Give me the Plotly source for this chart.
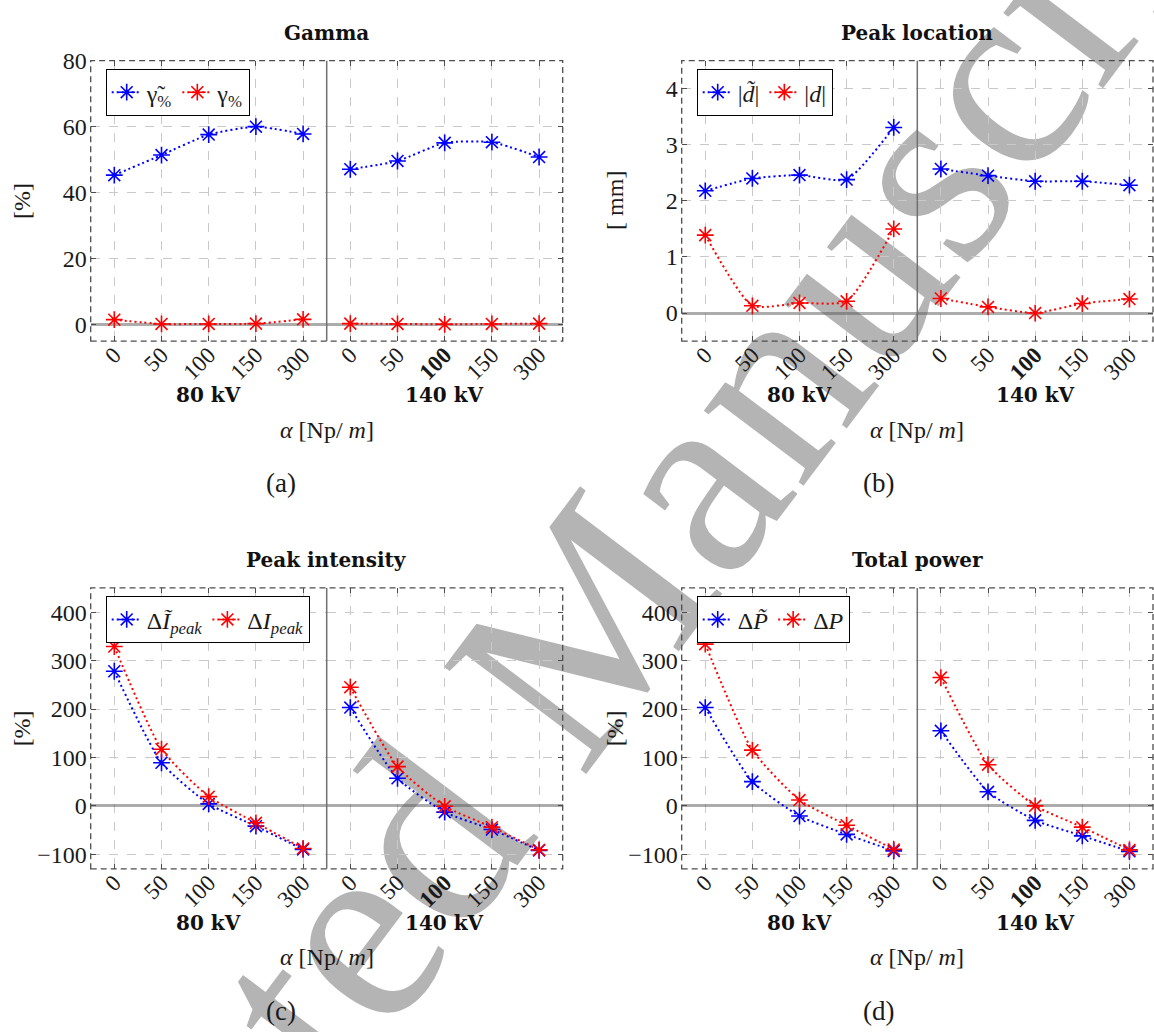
import plotly.graph_objects as go

W, H = 1154, 1032

# ---------------- data ----------------
alphas = ["0", "50", "100", "150", "300"]
ticktext_80 = ["0", "50", "100", "150", "300"]
ticktext_140 = ["0", "50", "<b>100</b>", "150", "300"]
groups = ["80 kV", "140 kV"]

gamma_tilde_80 = [45.3, 51.4, 57.6, 60.0, 57.8]
gamma_tilde_140 = [47.1, 49.6, 55.1, 55.3, 50.8]
gamma_80 = [1.5, 0.2, 0.2, 0.3, 1.6]
gamma_140 = [0.3, 0.2, 0.1, 0.2, 0.3]

d_tilde_80 = [2.18, 2.40, 2.46, 2.38, 3.31]
d_tilde_140 = [2.57, 2.45, 2.35, 2.35, 2.28]
d_80 = [1.39, 0.13, 0.18, 0.21, 1.50]
d_140 = [0.26, 0.11, 0.0, 0.17, 0.25]

ipeak_tilde_80 = [278, 89, 4, -42, -90]
ipeak_tilde_140 = [203, 57, -13, -49, -92]
ipeak_80 = [329, 117, 19, -35, -88]
ipeak_140 = [245, 81, -1, -44, -91]

p_tilde_80 = [203, 50, -21, -59, -93]
p_tilde_140 = [155, 29, -30, -62, -94]
p_80 = [334, 115, 12, -40, -90]
p_140 = [265, 85, 0, -44, -91]

panels = [
    dict(title="Gamma", ylabel="[%]", caption="(a)", yrange=[-5, 80], yticks=[0, 20, 40, 60, 80],
         names=["γ̃<sub>%</sub>", "γ<sub>%</sub>"],
         blue=[gamma_tilde_80, gamma_tilde_140], red=[gamma_80, gamma_140]),
    dict(title="Peak location", ylabel="[ mm]", caption="(b)", yrange=[-0.5, 4.5], yticks=[0, 1, 2, 3, 4],
         names=["|<i>d̃</i>|", "|<i>d</i>|"],
         blue=[d_tilde_80, d_tilde_140], red=[d_80, d_140]),
    dict(title="Peak intensity", ylabel="[%]", caption="(c)", yrange=[-130, 450],
         yticks=[-100, 0, 100, 200, 300, 400],
         names=["Δ<i>Ĩ</i><sub><i>peak</i></sub>", "Δ<i>I</i><sub><i>peak</i></sub>"],
         blue=[ipeak_tilde_80, ipeak_tilde_140], red=[ipeak_80, ipeak_140]),
    dict(title="Total power", ylabel="[%]", caption="(d)", yrange=[-130, 450],
         yticks=[-100, 0, 100, 200, 300, 400],
         names=["Δ<i>P̃</i>", "Δ<i>P</i>"],
         blue=[p_tilde_80, p_tilde_140], red=[p_80, p_140]),
]

# ---------------- geometry (pixels) ----------------
cols = [(90.7, 326.7, 562.7), (681.7, 917.3, 1153.0)]
rows = [(48.3, 332.3), (582.3, 866.7)]
ylabel_x = [22, 615]
caption_x = [281, 878]


def fx(px):
    return px / W


def fy(py):
    return 1 - py / H


SERIF = "Liberation Serif, Times New Roman, Times, DejaVu Serif, serif"
BOLD = "DejaVu Serif"
BLUE = "rgb(0,0,255)"
RED = "rgb(255,0,0)"
GRID = "#c9c9c9"
FRAME = "#4d4d4d"
TXT = "#1a1a1a"

fig = go.Figure()
layout = dict(
    width=W, height=H, margin=dict(l=0, r=0, t=0, b=0),
    paper_bgcolor="white", plot_bgcolor="rgba(0,0,0,0)",
    showlegend=True,
)
annotations = []
shapes = []

# watermark (drawn beneath everything)
shapes.append(dict(
    type="rect", xref="paper", yref="paper",
    x0=fx(523), x1=fx(533), y0=fy(650), y1=fy(640),
    line=dict(width=0), fillcolor="rgba(0,0,0,0)", layer="below",
    label=dict(text="Accepted Manuscript", textangle=-53, textposition="middle center",
               font=dict(family=SERIF, size=272, color="#b4b4b4")),
))

for p, pan in enumerate(panels):
    r, c = divmod(p, 2)
    xl, xm, xr = cols[c]
    yt, yb = rows[r]
    legend_name = "legend" if p == 0 else f"legend{p + 1}"
    for h in range(2):
        n = 2 * p + 1 + h
        xref = "x" if n == 1 else f"x{n}"
        yref = "y" if n == 1 else f"y{n}"
        xname = "xaxis" if n == 1 else f"xaxis{n}"
        yname = "yaxis" if n == 1 else f"yaxis{n}"
        x0, x1 = (xl, xm) if h == 0 else (xm, xr)
        for series, color, nm in ((pan["blue"][h], BLUE, pan["names"][0]),
                                  (pan["red"][h], RED, pan["names"][1])):
            fig.add_trace(go.Scatter(
                x=alphas, y=series, xaxis=xref, yaxis=yref,
                mode="lines+markers", name=nm, legend=legend_name,
                showlegend=(h == 0),
                line=dict(color=color, width=2, dash="2px,3px", shape="spline", smoothing=0.55),
                marker=dict(symbol="asterisk-open", size=14, color=color,
                            line=dict(color=color, width=1.6)),
            ))
        layout[xname] = dict(
            domain=[fx(x0), fx(x1)], anchor=yref, type="category",
            categoryorder="array", categoryarray=alphas, range=[-0.5, 4.5],
            tickmode="array", tickvals=alphas,
            ticktext=ticktext_80 if h == 0 else ticktext_140,
            tickangle=-45, tickfont=dict(family=SERIF, size=23, color=TXT),
            ticklabelstandoff=-5,
            showgrid=True, gridcolor=GRID, griddash="dash", gridwidth=1,
            zeroline=False, showline=False,
            ticks="inside", ticklen=5, tickcolor=FRAME, mirror="ticks",
            fixedrange=True,
        )
        layout[yname] = dict(
            domain=[fy(yb), fy(yt)], anchor=xref, range=pan["yrange"],
            tickmode="array", tickvals=pan["yticks"],
            ticktext=[("−" + str(-v)) if v < 0 else str(v) for v in pan["yticks"]],
            side="left" if h == 0 else "right", showticklabels=(h == 0),
            tickfont=dict(family=SERIF, size=24, color=TXT),
            ticklabelstandoff=3,
            showgrid=True, gridcolor=GRID, griddash="dash", gridwidth=1,
            zeroline=True, zerolinecolor="rgba(90,90,90,0.5)", zerolinewidth=3,
            showline=False, ticks="inside", ticklen=5, tickcolor=FRAME,
            fixedrange=True,
        )
        # group label
        annotations.append(dict(
            text=f"<b>{groups[h]}</b>", xref="paper", yref="paper",
            x=fx((x0 + x1) / 2), y=fy(yt + 339), showarrow=False,
            xanchor="center", yanchor="middle",
            font=dict(family=BOLD, size=20, color="#111"),
        ))
    # legend
    layout[legend_name] = dict(
        x=fx(xl + 15), y=fy(yt + 8.5), xanchor="left", yanchor="top",
        orientation="h", bgcolor="white", bordercolor="black", borderwidth=1,
        font=dict(family=SERIF, size=24, color=TXT),
        itemclick=False, itemdoubleclick=False,
    )
    # frame (dashed) and divider
    shapes.append(dict(type="rect", xref="paper", yref="paper",
                       x0=fx(xl), x1=fx(xr), y0=fy(yb), y1=fy(yt),
                       line=dict(color=FRAME, width=1.3, dash="6px,4px"), layer="above"))
    shapes.append(dict(type="line", xref="paper", yref="paper",
                       x0=fx(xm), x1=fx(xm), y0=fy(yb), y1=fy(yt),
                       line=dict(color="#707070", width=1.5), layer="above"))
    # title
    annotations.append(dict(
        text=f"<b>{pan['title']}</b>", xref="paper", yref="paper",
        x=fx((xl + xr) / 2), y=fy(yt - 28), showarrow=False,
        xanchor="center", yanchor="middle", font=dict(family=BOLD, size=20, color="#111"),
    ))
    # y label
    annotations.append(dict(
        text=pan["ylabel"], xref="paper", yref="paper", textangle=-90,
        x=fx(ylabel_x[c]), y=fy((yt + yb) / 2), showarrow=False,
        xanchor="center", yanchor="middle", font=dict(family=SERIF, size=24, color=TXT),
    ))
    # x label
    annotations.append(dict(
        text="<i>α</i> [Np/ <i>m</i>]", xref="paper", yref="paper",
        x=fx((xl + xr) / 2), y=fy(yt + 374), showarrow=False,
        xanchor="center", yanchor="middle", font=dict(family=SERIF, size=24, color=TXT),
    ))
    # caption
    annotations.append(dict(
        text=pan["caption"], xref="paper", yref="paper",
        x=fx(caption_x[c]), y=fy(yt + 428), showarrow=False,
        xanchor="center", yanchor="middle", font=dict(family=SERIF, size=27, color=TXT),
    ))

layout["annotations"] = annotations
layout["shapes"] = shapes
fig.update_layout(**layout)

fig.write_html("out.html", config={"displayModeBar": False},
               post_script="document.body.style.margin='0';")
